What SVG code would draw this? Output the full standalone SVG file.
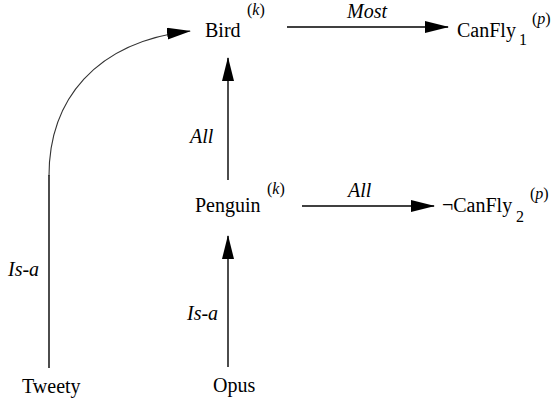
<svg xmlns="http://www.w3.org/2000/svg" width="559" height="404" viewBox="0 0 559 404">
<defs>
<marker id="ah" markerUnits="userSpaceOnUse" markerWidth="24" markerHeight="12" refX="23" refY="6" orient="auto">
<path d="M0,0 L24,6 L0,12 z" fill="#000"/>
</marker>
</defs>
<g id="connectors" fill="none" stroke="#000" stroke-width="1.4">
<line x1="49" y1="368" x2="49" y2="175"/>
<path d="M49,176 C49,100 95,42 190,31" stroke="#333" stroke-width="1.1" marker-end="url(#ah)"/>
<line x1="287" y1="27" x2="448" y2="27" marker-end="url(#ah)"/>
<line x1="228" y1="180" x2="228" y2="58" marker-end="url(#ah)"/>
<line x1="302" y1="206" x2="434" y2="206" marker-end="url(#ah)"/>
<line x1="228" y1="367" x2="228" y2="236" marker-end="url(#ah)"/>
</g>
<text font-family="serif" font-size="20" font-style="italic" x="347" y="18">Most</text>
<text font-family="serif" font-size="20" font-style="italic" x="190" y="143">All</text>
<text font-family="serif" font-size="20" font-style="italic" x="348" y="197">All</text>
<text font-family="serif" font-size="20" font-style="italic" x="8" y="276">Is-a</text>
<text font-family="serif" font-size="20" font-style="italic" x="187" y="320">Is-a</text>
<g id="bird"><text font-family="Liberation Serif" font-size="20" x="205" y="37">Bird</text><text font-family="Liberation Serif" font-size="16" x="247" y="15">(<tspan font-style="italic">k</tspan>)</text></g>
<g id="canfly1"><text font-family="Liberation Serif" font-size="20" x="457" y="37">CanFly</text><text font-family="Liberation Serif" font-size="16" x="519" y="45">1</text><text font-family="Liberation Serif" font-size="16" x="532" y="24">(<tspan font-style="italic">p</tspan>)</text></g>
<g id="penguin"><text font-family="Liberation Serif" font-size="20" x="195" y="212">Penguin</text><text font-family="Liberation Serif" font-size="16" x="267" y="194">(<tspan font-style="italic">k</tspan>)</text></g>
<g id="notcanfly2"><text font-family="Liberation Serif" font-size="20" x="442" y="212">¬CanFly</text><text font-family="Liberation Serif" font-size="16" x="516" y="222">2</text><text font-family="Liberation Serif" font-size="16" x="530" y="199">(<tspan font-style="italic">p</tspan>)</text></g>
<g id="tweety"><text font-family="Liberation Serif" font-size="20" x="22" y="393">Tweety</text></g>
<g id="opus"><text font-family="Liberation Serif" font-size="20" x="213" y="392">Opus</text></g>
</svg>
